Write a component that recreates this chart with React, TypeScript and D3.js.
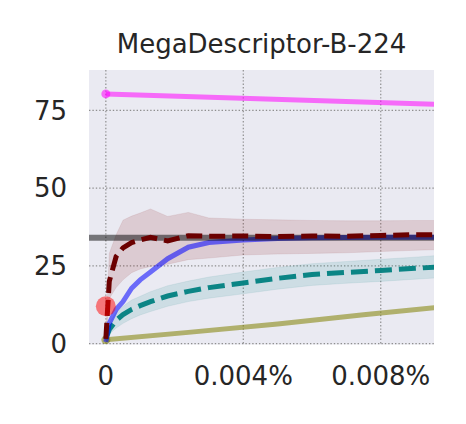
import * as d3 from 'd3';
import React from 'react';

// x positions (fraction in %), shared by all curves
const xs = [0, 0.0001, 0.0003, 0.0005, 0.00075, 0.001, 0.0013, 0.0018, 0.0024, 0.003, 0.004, 0.005, 0.006, 0.007, 0.008, 0.009, 0.0096];

const redMean = [1.5, 20, 28, 30.8, 32.5, 33.3, 34.2, 33, 34.7, 34.5, 34.6, 34.4, 34.6, 34.5, 34.8, 35, 35];
const redLow = [1, 14.5, 18, 20.5, 22.8, 24, 24.8, 25.5, 27, 27.5, 28.5, 28.8, 29, 29.2, 29.6, 30, 30.2];
const redHigh = [2, 29, 35, 39.7, 41, 42, 43.3, 40.9, 42.2, 40.4, 40, 39.8, 39.6, 39.5, 39.5, 39.6, 39.6];

const tealMean = [1.5, 4.5, 7.5, 9.3, 11, 12.2, 13.5, 15.3, 16.8, 18, 19.5, 21, 22.2, 22.9, 23.5, 24.2, 24.6];
const tealLow = [1, 3, 5, 6.5, 8, 9.2, 10.3, 12, 13.5, 14.6, 16, 17.5, 18.7, 19.4, 20, 20.7, 21.1];
const tealHigh = [2, 6.5, 10, 12, 14, 15.2, 16.7, 18.6, 20.1, 21.4, 23, 24.5, 25.7, 26.4, 27.1, 27.8, 28.3];

const blueVals = [0.5, 6.5, 11, 13.5, 17.8, 20.5, 23, 27.3, 31, 32.5, 33.3, 33.8, 34, 34.1, 34.2, 34.2, 34.2];

const oliveX = [0, 0.0024, 0.005, 0.0075, 0.0096];
const oliveVals = [1.2, 3.6, 6.3, 9.3, 11.6];

const magentaX = [0, 0.0096];
const magentaVals = [80.3, 77];

const refLine = 34;
const redPoint = 12;

const yTicks = [0, 25, 50, 75];
const xTicks = [0, 0.004, 0.008];
const title = 'MegaDescriptor-B-224';

export default function App() {
  const width = 466, height = 424;
  const left = 89, right = 434, top = 70, bottom = 344.5;

  const x = d3.scaleLinear().domain([-0.00049, 0.00955]).range([left, right]);
  const y = d3.scaleLinear().domain([-0.3, 88]).range([bottom, top]);

  const line = d3.line<[number, number]>().x(d => x(d[0])).y(d => y(d[1]));
  const band = d3.area<number>()
    .x((d, i) => x(xs[i]));

  const pairs = (xa: number[], ya: number[]) => xa.map((v, i) => [v, ya[i]] as [number, number]);

  const redBand = d3.area<number>().x((d, i) => x(xs[i])).y0((d, i) => y(redLow[i])).y1((d, i) => y(redHigh[i]));
  const tealBand = d3.area<number>().x((d, i) => x(xs[i])).y0((d, i) => y(tealLow[i])).y1((d, i) => y(tealHigh[i]));

  const font = 'DejaVu Sans, sans-serif';
  const textColor = '#262626';
  const xFmt = (v: number) => (v === 0 ? '0' : v.toFixed(3) + '%');

  return (
    <svg width={width} height={height} style={{ position: 'absolute', left: 0, top: 0 }}>
      <defs>
        <clipPath id="plot">
          <rect x={left} y={top} width={right - left} height={bottom - top} />
        </clipPath>
      </defs>
      <rect x={left} y={top} width={right - left} height={bottom - top} fill="#EAEAF2" />
      {yTicks.map(t => (
        <line key={'gy' + t} x1={left} x2={right} y1={y(t)} y2={y(t)} stroke="#8f8f8f" strokeWidth={1.2} strokeDasharray="1.4,2" />
      ))}
      {xTicks.map(t => (
        <line key={'gx' + t} x1={x(t)} x2={x(t)} y1={top} y2={bottom} stroke="#8f8f8f" strokeWidth={1.2} strokeDasharray="1.4,2" />
      ))}
      <g clipPath="url(#plot)">
        <path d={redBand(xs) || ''} fill="#800000" fillOpacity={0.13} stroke="#800000" strokeOpacity={0.08} />
        <path d={tealBand(xs) || ''} fill="#008080" fillOpacity={0.12} stroke="#008080" strokeOpacity={0.08} />
        <path d={line(pairs(oliveX, oliveVals)) || ''} fill="none" stroke="olive" strokeOpacity={0.55} strokeWidth={5} />
        <circle cx={x(oliveX[0])} cy={y(oliveVals[0])} r={4.5} fill="olive" fillOpacity={0.55} />
        <path d={line(pairs(xs, tealMean)) || ''} fill="none" stroke="#008080" strokeOpacity={0.95} strokeWidth={5} strokeDasharray="17,7" />
        <path d={line(pairs(xs, blueVals)) || ''} fill="none" stroke="blue" strokeOpacity={0.55} strokeWidth={5} />
        <line x1={left} x2={right} y1={y(refLine)} y2={y(refLine)} stroke="black" strokeOpacity={0.5} strokeWidth={6} />
        <path d={line(pairs(xs, redMean)) || ''} fill="none" stroke="#6b0000" strokeWidth={5} strokeDasharray="16,7" />
        <circle cx={x(0)} cy={y(redPoint)} r={10} fill="red" fillOpacity={0.5} />
        <path d={line(pairs(magentaX, magentaVals)) || ''} fill="none" stroke="magenta" strokeOpacity={0.55} strokeWidth={5} />
        <circle cx={x(magentaX[0])} cy={y(magentaVals[0])} r={4.5} fill="magenta" fillOpacity={0.55} />
      </g>
      {yTicks.map(t => (
        <text key={'ty' + t} x={67} y={y(t)} dy="0.36em" textAnchor="end" fontFamily={font} fontSize={26} fill={textColor}>
          {t}
        </text>
      ))}
      {xTicks.map(t => (
        <text key={'tx' + t} x={x(t)} y={385} textAnchor="middle" fontFamily={font} fontSize={26} fill={textColor}>
          {xFmt(t)}
        </text>
      ))}
      <text x={(left + right) / 2} y={53} textAnchor="middle" fontFamily={font} fontSize={26} fill={textColor}>
        {title}
      </text>
    </svg>
  );
}
